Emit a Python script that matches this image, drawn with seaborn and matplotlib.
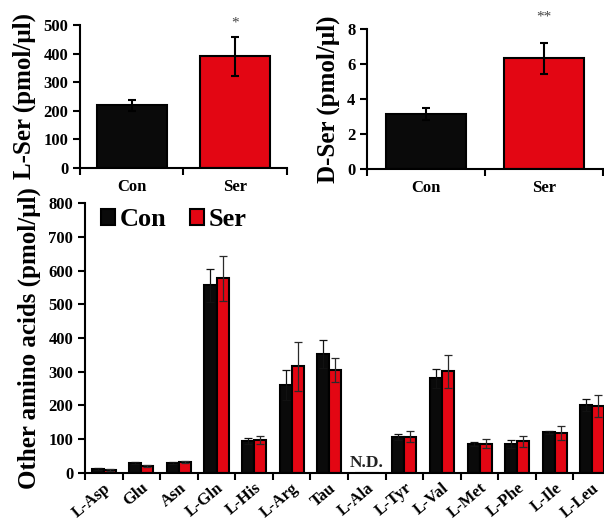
import numpy as np
import pandas as pd
import matplotlib
matplotlib.use('Agg')
import matplotlib.pyplot as plt
import seaborn as sns

# top panels
groups = ['Con', 'Ser']
lser_mean = [219, 390]
lser_err = [19, 68]
dser_mean = [3.15, 6.32]
dser_err = [0.32, 0.88]

# bottom panel
amino_acids = ['L-Asp', 'Glu', 'Asn', 'L-Gln', 'L-His', 'L-Arg', 'Tau', 'L-Ala',
               'L-Tyr', 'L-Val', 'L-Met', 'L-Phe', 'L-Ile', 'L-Leu']
con_mean = [12, 30, 30, 556, 95, 261, 352, np.nan, 106, 280, 86, 87, 120, 202]
con_err = [2, 3, 2, 49, 8, 45, 42, 0, 9, 28, 5, 12, 4, 17]
ser_mean = [9, 22, 32, 577, 99, 316, 306, np.nan, 108, 301, 87, 94, 118, 198]
ser_err = [2, 3, 3, 66, 12, 72, 36, 0, 15, 49, 13, 17, 20, 32]

palette = {'Con': '#0a0a0a', 'Ser': '#e30613'}

sns.set_style('ticks')
plt.rcParams['font.family'] = ['Liberation Serif', 'DejaVu Serif']
plt.rcParams['font.weight'] = 'bold'
plt.rcParams['axes.linewidth'] = 1.5
plt.rcParams['text.color'] = 'black'
plt.rcParams['axes.labelcolor'] = 'black'
plt.rcParams['xtick.color'] = 'black'
plt.rcParams['ytick.color'] = 'black'
plt.rcParams['axes.edgecolor'] = 'black'

fig = plt.figure(figsize=(6.04, 5.2), dpi=100)
ax1 = fig.add_axes([0.1325, 0.677, 0.3425, 0.275])
ax2 = fig.add_axes([0.608, 0.675, 0.39, 0.269])
ax3 = fig.add_axes([0.1407, 0.0904, 0.871, 0.5192])


def style_axis(ax, n, ylabel):
    sns.despine(ax=ax)
    ax.set_xlim(-0.5, n - 0.5)
    ax.set_xlabel('')
    ax.set_ylabel(ylabel, fontsize=18, fontweight='bold', labelpad=5)
    ax.tick_params(axis='x', which='major', length=0, labelsize=12, pad=8)
    ax.set_xticks(np.arange(n + 1) - 0.5, minor=True)
    ax.tick_params(axis='x', which='minor', length=5, width=1.5, direction='out')
    ax.tick_params(axis='y', length=5, width=1.5, direction='out', labelsize=12)


def add_errors(ax, errs, colors, lw, cap):
    for cont, err, col in zip(ax.containers, errs, colors):
        for bar, e in zip(cont, err):
            h = bar.get_height()
            if not np.isfinite(h) or e == 0:
                continue
            x = bar.get_x() + bar.get_width() / 2
            ax.errorbar(x, h, yerr=e, fmt='none', ecolor=col, elinewidth=lw,
                        capsize=cap, capthick=lw, zorder=5)


# L-Ser
df1 = pd.DataFrame({'group': groups, 'value': lser_mean})
sns.barplot(data=df1, x='group', y='value', hue='group', palette=palette,
            saturation=1, errorbar=None, width=0.68, edgecolor='black',
            linewidth=1.5, legend=False, ax=ax1)
add_errors(ax1, [[e] for e in lser_err], ['black', 'black'], 1.5, 3)
style_axis(ax1, 2, 'L-Ser (pmol/\u03bcl)')
ax1.set_ylim(0, 500)
ax1.set_yticks(range(0, 501, 100))
ax1.text(1, 505, '*', ha='center', va='center', fontsize=11,
         fontweight='normal', color='#444444', clip_on=False)

# D-Ser
df2 = pd.DataFrame({'group': groups, 'value': dser_mean})
sns.barplot(data=df2, x='group', y='value', hue='group', palette=palette,
            saturation=1, errorbar=None, width=0.68, edgecolor='black',
            linewidth=1.5, legend=False, ax=ax2)
add_errors(ax2, [[e] for e in dser_err], ['black', 'black'], 1.5, 3)
style_axis(ax2, 2, 'D-Ser (pmol/\u03bcl)')
ax2.set_ylim(0, 8)
ax2.set_yticks(range(0, 9, 2))
ax2.text(1, 8.7, '**', ha='center', va='center', fontsize=11,
         fontweight='normal', color='#444444', clip_on=False)

# other amino acids
df3 = pd.DataFrame({
    'amino': amino_acids * 2,
    'group': ['Con'] * len(amino_acids) + ['Ser'] * len(amino_acids),
    'value': [0 if np.isnan(v) else v for v in con_mean + ser_mean],
})
sns.barplot(data=df3, x='amino', y='value', hue='group', palette=palette,
            saturation=1, errorbar=None, width=0.64, edgecolor='black',
            linewidth=1.5, ax=ax3)
add_errors(ax3, [con_err, ser_err], ['#111111', '#2a2a2a'], 0.9, 3)
style_axis(ax3, len(amino_acids), 'Other amino acids (pmol/\u03bcl)')
ax3.set_ylim(0, 800)
ax3.set_yticks(range(0, 801, 100))
ax3.tick_params(axis='x', which='major', pad=5)
for lab in ax3.get_xticklabels():
    lab.set_rotation(40)
    lab.set_ha('right')
    lab.set_rotation_mode('anchor')
    lab.set_fontsize(12)
ax3.text(amino_acids.index('L-Ala'), 6, 'N.D.', ha='center', va='bottom',
         fontsize=12.5, fontweight='bold', color='#222222')
ax3.legend(loc='upper left', bbox_to_anchor=(0.0, 1.04), frameon=False,
           ncol=2, handlelength=0.55, handleheight=0.55,
           handletextpad=0.15, columnspacing=0.9, borderaxespad=0.2,
           prop={'weight': 'bold', 'size': 19})

fig.savefig('out.png', dpi=100)
